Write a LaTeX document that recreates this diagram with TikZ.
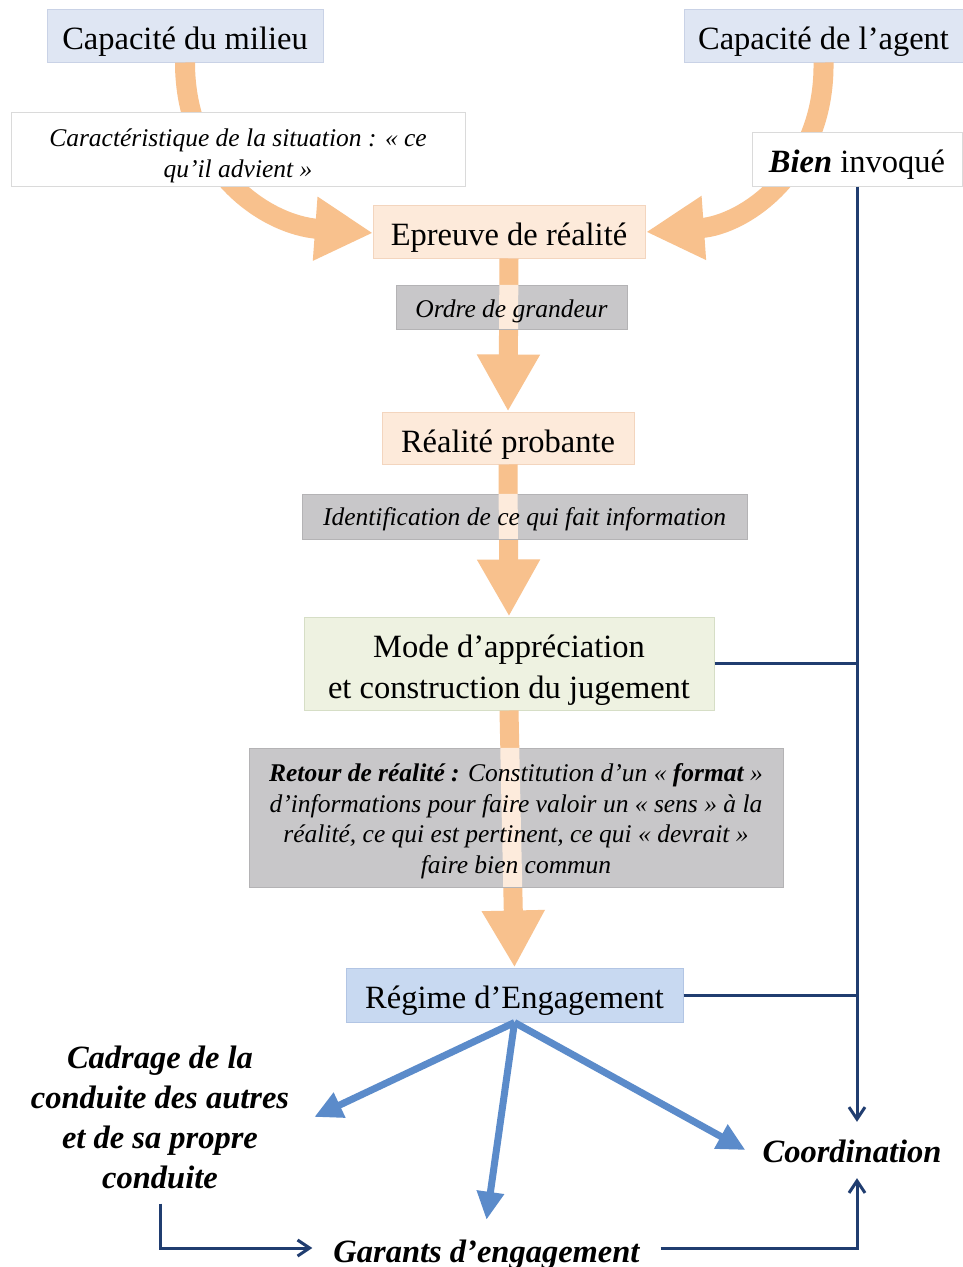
\documentclass[tikz,border=0pt]{standalone}
\usepackage{fontspec}
\setmainfont{Liberation Serif}
\usetikzlibrary{arrows.meta,calc}
\definecolor{capfill}{HTML}{DFE6F3}
\definecolor{capline}{HTML}{C9D2E6}
\definecolor{peachfill}{HTML}{FDEADA}
\definecolor{peachline}{HTML}{F3D5BE}
\definecolor{grayfill}{HTML}{C8C7C9}
\definecolor{palestrip}{HTML}{FDEBDC}
\definecolor{greenfill}{HTML}{EEF2E1}
\definecolor{greenline}{HTML}{D6DEC6}
\definecolor{regfill}{HTML}{C8D9F1}
\definecolor{regline}{HTML}{B2C5E4}
\definecolor{whiteline}{HTML}{DADADA}
\definecolor{arrorange}{HTML}{F8C18D}
\definecolor{navy}{HTML}{203D70}
\definecolor{arrblue}{HTML}{5B8BCA}
\newcommand\fBig{\fontsize{32.5}{41}\selectfont}
\newcommand\fSmall{\fontsize{25.5}{31}\selectfont\itshape}
\newcommand\fBot{\fontsize{32.5}{40}\selectfont\bfseries\itshape}
\begin{document}
\begin{tikzpicture}[x=1pt,y=-1pt,
  base/.style={inner sep=0pt, align=center, line width=1pt},
  oneline/.style={text height=#1, text depth=0pt},
  capbox/.style={base, fill=capfill, draw=capline, font=\fBig},
  peachbox/.style={base, fill=peachfill, draw=peachline, font=\fBig},
  whitebox/.style={base, fill=white, draw=whiteline},
  graybox/.style={base, fill=grayfill, draw=grayfill!90!black},
  smalltxt/.style={inner sep=0pt, align=center, font=\fSmall},
  bottxt/.style={align=center, font=\fBot},
  orangestraight/.style={draw=arrorange, line width=19pt, -{Triangle[length=57pt,width=59pt]}},
  orangecurve/.style={draw=arrorange, line width=20pt, -{Triangle[length=58pt,width=60pt]}},
  navyline/.style={draw=navy, line width=3pt},
  navyarrow/.style={navyline, -{Straight Barb[length=12pt,width=16pt]}},
  bluearrow/.style={draw=arrblue, fill=arrblue, line width=7pt, -{Triangle[length=28pt,width=26pt]}}
]
\fill[white] (0,0) rectangle (963,1267);
\useasboundingbox (0,0) rectangle (963,1267);

\node[capbox, oneline=28pt, minimum width=276pt, minimum height=53pt] (milieu) at (185,35.5) {Capacité du milieu};
\node[capbox, oneline=28pt, minimum width=279pt, minimum height=53pt] (agent) at (823.5,35.5) {Capacité de l’agent};

% curved orange arrows
\draw[orangecurve] (milieu.south) .. controls (185,170) and (265,225) .. (373,233);
\draw[orangecurve] (agent.south) .. controls (825,170) and (745,225) .. (646,232);

\node[whitebox, minimum width=454pt, minimum height=74pt, font=\fSmall] (carac) at (238,149)
  {\rule{0pt}{32pt}Caractéristique de la situation : « ce\\qu’il advient »};
\node[whitebox, oneline=26pt, minimum width=210pt, minimum height=54pt, font=\fBig] (bien) at (857,159)
  {\textbf{\textit{Bien}} invoqué};

\node[peachbox, oneline=27pt, minimum width=272pt, minimum height=53pt] (epreuve) at (509,231.5) {Epreuve de réalité};
\node[peachbox, oneline=28pt, minimum width=252pt, minimum height=52pt] (realite) at (508,438) {Réalité probante};
\node[base, fill=greenfill, draw=greenline, font=\fBig, minimum width=410pt, minimum height=93pt] (mode) at (509,663.5)
  {\rule{0pt}{35pt}Mode d’appréciation\\et construction du jugement};
\node[base, oneline=26pt, fill=regfill, draw=regline, font=\fBig, minimum width=337pt, minimum height=54pt] (regime) at (514.5,995)
  {Régime d’Engagement};

% straight orange arrows
\draw[orangestraight] (epreuve.south) -- (realite.north);
\draw[orangestraight] (realite.south) -- (mode.north);
\draw[orangestraight] (mode.south) -- (regime.north);

% gray label boxes with pale strip where the shaft crosses
\node[graybox, minimum width=231pt, minimum height=44pt] (ordreBox) at (511.5,307) {};
\node[graybox, minimum width=445pt, minimum height=45pt] (identBox) at (524.5,516.5) {};
\node[graybox, minimum width=534pt, minimum height=139pt] (retourBox) at (516,817.5) {};

\coordinate (o1) at (intersection of epreuve.south--realite.north and ordreBox.north west--ordreBox.north east);
\coordinate (o2) at (intersection of epreuve.south--realite.north and ordreBox.south west--ordreBox.south east);
\coordinate (i1) at (intersection of realite.south--mode.north and identBox.north west--identBox.north east);
\coordinate (i2) at (intersection of realite.south--mode.north and identBox.south west--identBox.south east);
\coordinate (r1) at (intersection of mode.south--regime.north and retourBox.north west--retourBox.north east);
\coordinate (r2) at (intersection of mode.south--regime.north and retourBox.south west--retourBox.south east);
\foreach \a/\b in {o1/o2,i1/i2,r1/r2}
  \fill[palestrip] ($(\a)+(-9.5,0.5)$) -- ($(\a)+(9.5,0.5)$) -- ($(\b)+(9.5,-0.5)$) -- ($(\b)+(-9.5,-0.5)$) -- cycle;

\node[smalltxt, oneline=20pt] (ordre) at (ordreBox) {Ordre de grandeur};
\node[smalltxt, oneline=17pt] (ident) at (identBox) {Identification de ce qui fait information};
\node[smalltxt, font=\fontsize{25.5}{30.5}\selectfont\itshape] (retour) at (retourBox)
  {\rule{0pt}{25pt}\textbf{Retour de réalité :} Constitution d’un « \textbf{format} »\\
   d’informations pour faire valoir un « sens » à la\\
   réalité, ce qui est pertinent, ce qui « devrait »\\
   faire bien commun};

% bottom labels
\node[bottxt, inner xsep=25pt, inner ysep=15pt] (cadrage) at (160,1117)
  {Cadrage de la\\conduite des autres\\et de sa propre\\conduite};
\node[bottxt, inner xsep=21pt, inner ysep=0pt, text height=42pt, text depth=14pt] (garants) at (486.5,1248)
  {Garants d’engagement};
\node[bottxt, inner xsep=17pt, inner ysep=0pt, minimum height=56pt, text height=24pt, text depth=0pt] (coord) at (852,1150) {Coordination};

% navy connectors
\draw[navyarrow] (bien.south) -- (bien.south |- coord.north);
\draw[navyline] (mode.east) -- (mode.east -| bien.south);
\draw[navyline] (regime.east) -- (regime.east -| bien.south);
\draw[navyarrow] (cadrage.south) |- (garants.west);
\draw[navyarrow] (garants.east) -| (bien.south |- coord.south);

% blue arrows
\draw[bluearrow] (regime.south) -- (cadrage.east);
\draw[bluearrow] (regime.south) -- (garants.north);
\draw[bluearrow] (regime.south) -- (coord.west);
\end{tikzpicture}
\end{document}
